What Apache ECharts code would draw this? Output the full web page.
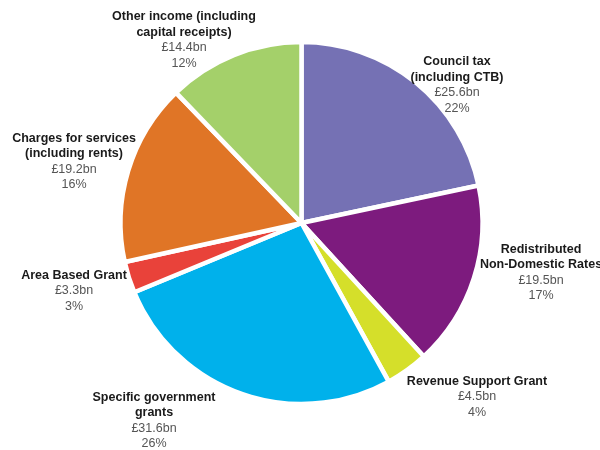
<!DOCTYPE html>
<html>
<head>
<meta charset="utf-8">
<style>
  html, body { margin: 0; padding: 0; background: #fff; }
  #chart { width: 600px; height: 450px; }
</style>
<script src="https://cdn.jsdelivr.net/npm/echarts@6/dist/echarts.min.js"></script>
</head>
<body>
<div id="chart"></div>
<script>
// Sources of local authority income (£bn), clockwise from 12 o'clock
const categories = [
  'Council tax\n(including CTB)',
  'Redistributed\nNon-Domestic Rates',
  'Revenue Support Grant',
  'Specific government\ngrants',
  'Area Based Grant',
  'Charges for services\n(including rents)',
  'Other income (including\ncapital receipts)'
];
const values = [25.6, 19.5, 4.5, 31.6, 3.3, 19.2, 14.4];
const valueLabels = ['£25.6bn', '£19.5bn', '£4.5bn', '£31.6bn', '£3.3bn', '£19.2bn', '£14.4bn'];
const percentLabels = ['22%', '17%', '4%', '26%', '3%', '16%', '12%'];
const colors = ['#7571b4', '#7d1b7e', '#d5df2a', '#00b1eb', '#e9423a', '#e07526', '#a4d06a'];

// label anchor points (centre of each text block)
const labelAnchors = [
  [457, 85], [541, 272.5], [477, 397], [154, 420.5], [74, 291], [74, 161.5], [184, 40]
];

const chart = echarts.init(document.getElementById('chart'), null, { renderer: 'canvas' });

chart.setOption({
  animation: false,
  series: [{
    type: 'pie',
    center: [301.5, 223],
    radius: [0, 181],
    startAngle: 90,
    clockwise: true,
    avoidLabelOverlap: false,
    itemStyle: { borderColor: '#ffffff', borderWidth: 4.5 },
    emphasis: { disabled: true },
    labelLine: { show: false },
    label: {
      show: true,
      position: 'outside',
      overflow: 'none',
      formatter: function (p) {
        const i = p.dataIndex;
        const nameLines = categories[i].split('\n').map(function (s) { return '{n|' + s + '}'; });
        return nameLines.join('\n') + '\n{v|' + valueLabels[i] + '}\n{v|' + percentLabels[i] + '}';
      },
      align: 'center',
      rich: {
        n: { fontFamily: 'Liberation Sans', fontWeight: 'bold', fontSize: 12.5, color: '#1a1a1a', lineHeight: 15.5, align: 'center' },
        v: { fontFamily: 'Liberation Sans', fontSize: 12.5, color: '#555555', lineHeight: 15.5, align: 'center' }
      }
    },
    labelLayout: function (params) {
      const a = labelAnchors[params.dataIndex];
      return { x: a[0], y: a[1], align: 'center', verticalAlign: 'middle', hideOverlap: false };
    },
    data: categories.map(function (c, i) {
      return { name: c, value: values[i], itemStyle: { color: colors[i] } };
    })
  }]
});
</script>
</body>
</html>
